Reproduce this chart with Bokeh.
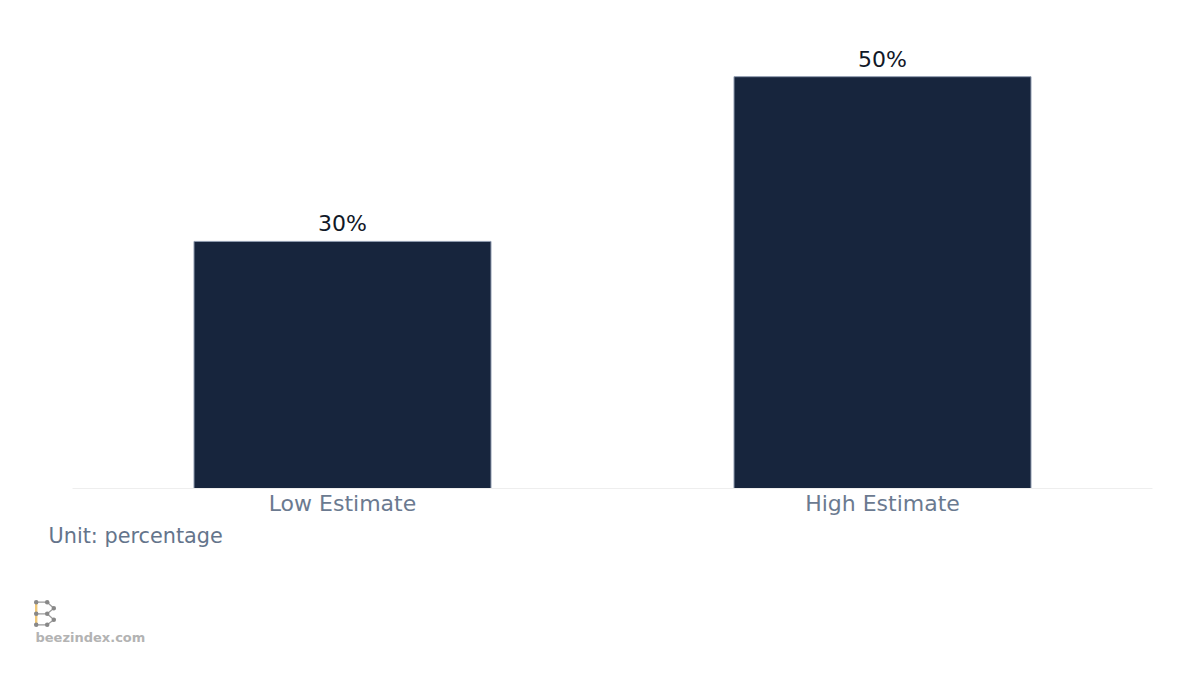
from bokeh.plotting import figure
from bokeh.layouts import column
from bokeh.models import FactorRange, Range1d, ColumnDataSource, LabelSet
from bokeh.core.properties import value
from bokeh.embed import file_html
from bokeh.resources import INLINE

# ---- data ----
categories = ["Low Estimate", "High Estimate"]
values = [30, 50]
value_labels = ["30%", "50%"]
unit_text = "Unit: percentage"
brand_text = "beezindex.com"

FONT = "DejaVu Sans"
BAR_COLOR = "#17253d"
W = 1192

src = ColumnDataSource(dict(cat=categories, val=values, lab=value_labels))

p = figure(
    x_range=FactorRange(*categories),
    y_range=Range1d(0, 55),
    width=W, height=522,
    output_backend="svg", toolbar_location=None,
    min_border_left=72, min_border_right=40,
    min_border_top=35, min_border_bottom=34,
)
p.frame_align = False
p.background_fill_color = "white"
p.border_fill_color = "white"
p.outline_line_color = None
p.grid.visible = False
p.yaxis.visible = False

p.vbar(x="cat", top="val", width=0.55, source=src,
       fill_color=BAR_COLOR, line_color="#8f9bb0", line_width=1)

p.add_layout(LabelSet(x="cat", y="val", text="lab", source=src,
                      text_font=value(FONT), text_font_size=value("22px"),
                      text_color=value("#111827"),
                      text_align="center", text_baseline="alphabetic", y_offset=10))

ax = p.xaxis[0]
ax.axis_line_color = "#eeeeee"
ax.axis_line_width = 1
ax.major_tick_line_color = None
ax.minor_tick_line_color = None
ax.major_label_text_font = FONT
ax.major_label_text_font_size = "22px"
ax.major_label_text_color = "#6b7a90"
ax.major_label_standoff = -4

# ---- footer (decoration), coordinates in page pixels ----
TOP = 522
H = 667 - TOP
f = figure(width=W, height=H, x_range=Range1d(0, W), y_range=Range1d(667, TOP),
           output_backend="svg", toolbar_location=None,
           x_axis_location=None, y_axis_location=None,
           min_border=0, min_border_left=0, min_border_right=0,
           min_border_top=0, min_border_bottom=0)
f.frame_align = False
f.grid.visible = False
f.outline_line_color = None
f.background_fill_color = "white"
f.border_fill_color = "white"

f.text(x=[48], y=[535.7], text=[unit_text], text_font=value(FONT),
       text_font_size="20.8px", text_color="#64748b",
       text_align="left", text_baseline="middle")
f.text(x=[35], y=[637.3], text=[brand_text], text_font=value(FONT),
       text_font_size="13px", text_font_style="bold", text_color="#b3b3b3",
       text_align="left", text_baseline="middle")

# logo "B"
f.segment(x0=[35.7], y0=[601.7], x1=[35.7], y1=[624.3], line_color="#f0c878", line_width=2.4)
f.segment(x0=[35.7, 46.7, 53.3, 35.7, 46.7, 53.3, 35.7],
          y0=[601.7, 601.7, 607.7, 613.3, 613.3, 619.3, 624.3],
          x1=[46.7, 53.3, 46.7, 46.7, 53.3, 46.7, 46.7],
          y1=[601.7, 607.7, 613.3, 613.3, 619.3, 624.3, 624.3],
          line_color="#9a9a9a", line_width=1.2)
f.scatter(x=[35.7, 46.7, 53.3, 46.7, 35.7, 53.3, 46.7, 35.7],
          y=[601.7, 601.7, 607.7, 613.3, 613.3, 619.3, 624.3, 624.3],
          size=4.5, fill_color="#888888", line_color=None)

layout = column(p, f, spacing=0)
open("out.html", "w").write(file_html(layout, INLINE))
